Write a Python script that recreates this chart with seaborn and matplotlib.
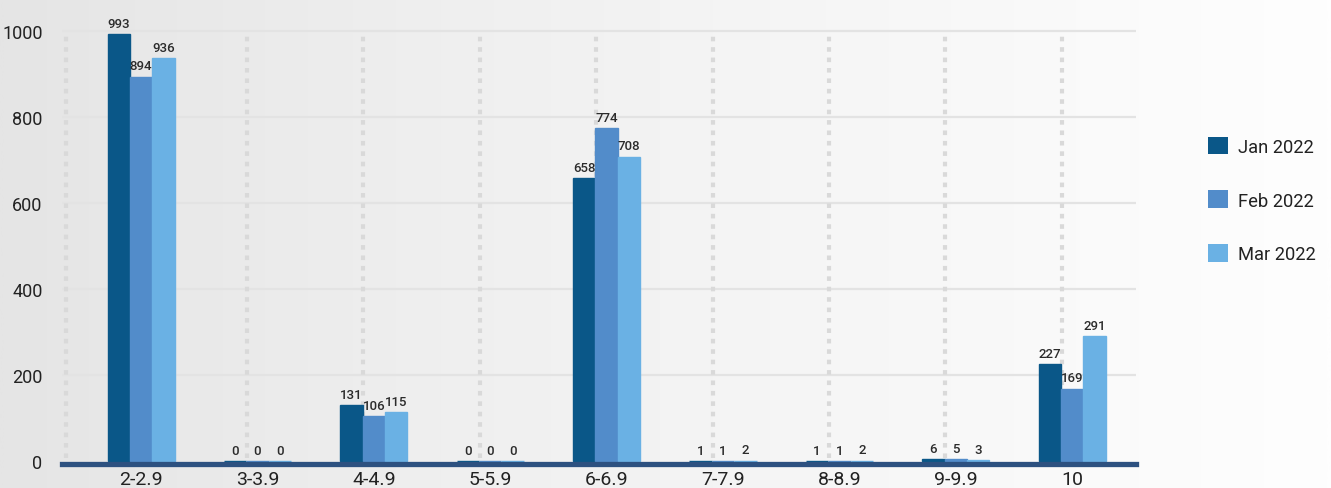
import numpy as np
import pandas as pd
import matplotlib
matplotlib.use("Agg")
import matplotlib.pyplot as plt
from matplotlib.colors import LinearSegmentedColormap
from matplotlib.patches import Patch
import seaborn as sns

# Rating bands and monthly counts
categories = ["2-2.9", "3-3.9", "4-4.9", "5-5.9", "6-6.9", "7-7.9", "8-8.9", "9-9.9", "10"]
jan_2022 = [993, 0, 131, 0, 658, 1, 1, 6, 227]
feb_2022 = [894, 0, 106, 0, 774, 1, 1, 5, 169]
mar_2022 = [936, 0, 115, 0, 708, 2, 2, 3, 291]
series_names = ["Jan 2022", "Feb 2022", "Mar 2022"]
y_ticks = [0, 200, 400, 600, 800, 1000]

colors = ["#0a5788", "#528cca", "#6ab1e4"]

sns.set_theme(style="white")
plt.rcParams["font.family"] = ["Roboto", "DejaVu Sans"]

df = pd.DataFrame({
    "band": categories * 3,
    "count": jan_2022 + feb_2022 + mar_2022,
    "month": [series_names[0]] * len(categories)
             + [series_names[1]] * len(categories)
             + [series_names[2]] * len(categories),
})

W, H = 1331, 489
fig = plt.figure(figsize=(W / 100, H / 100), dpi=100)

# soft left-to-right grey background
bg = fig.add_axes([0, 0, 1, 1], zorder=-10)
grad = np.linspace(0, 1, 512).reshape(1, -1)
cmap = LinearSegmentedColormap.from_list(
    "bg", [(0, "#e5e5e5"), (0.33, "#efefef"), (0.62, "#f6f6f6"), (1, "#fefefe")])
bg.imshow(grad, aspect="auto", cmap=cmap, extent=[0, 1, 0, 1])
bg.set_axis_off()

left, right = 62 / W, 1136 / W
bottom, top = (H - 465) / H, 1.0
ax = fig.add_axes([left, bottom, right - left, top - bottom])
ax.set_facecolor("none")

sns.barplot(data=df, x="band", y="count", hue="month", palette=colors,
            width=0.576, saturation=1, ax=ax, legend=False, zorder=3)

for p in ax.patches:
    p.set_edgecolor(p.get_facecolor())
    p.set_linewidth(1.0)

for cont in ax.containers:
    ax.bar_label(cont, padding=3, fontsize=9.5, fontweight="medium",
                 color="#2b2b2b", zorder=5)

ax.set_xlim(-0.679, 8.548)
ax.set_ylim(-6, 1074)

# horizontal grid
for yv in y_ticks[1:]:
    ax.axhline(yv, color="#e3e3e3", lw=1.6, zorder=1)

# vertical dotted separators
n = len(categories)
sep_x = [-0.644] + list(np.arange(n - 1) + 0.91)
for xv in sep_x:
    ax.plot([xv, xv], [8, 1000], color="#d9d9d9", lw=3,
            linestyle=(0, (1.1, 1.4)), solid_capstyle="butt", zorder=2)

for s in ["top", "right", "left"]:
    ax.spines[s].set_visible(False)
ax.spines["bottom"].set_color("#2d5180")
ax.spines["bottom"].set_linewidth(3.8)
ax.spines["bottom"].set_zorder(6)

ax.set_yticks(y_ticks)
ax.set_yticklabels([str(v) for v in y_ticks])
ax.tick_params(axis="y", length=0, pad=14, labelsize=13, labelcolor="#222222")
ax.tick_params(axis="x", length=0, pad=4, labelsize=14, labelcolor="#222222")
ax.set_xlabel("")
ax.set_ylabel("")

handles = [Patch(facecolor=c, edgecolor="none") for c in colors]
fig.legend(handles, series_names, loc="center left",
           bbox_to_anchor=(1199 / W, (H - 201) / H), frameon=False,
           fontsize=13.2, labelspacing=1.9, handlelength=1.1, handleheight=1.1,
           handletextpad=0.5, borderpad=0, labelcolor="#222222")

fig.savefig("out.png", dpi=100)
